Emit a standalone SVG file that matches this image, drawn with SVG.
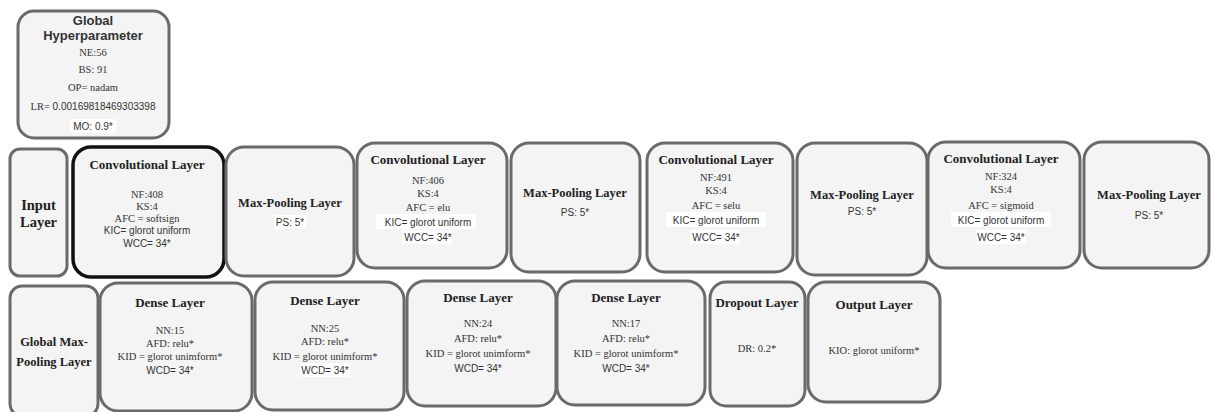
<svg xmlns="http://www.w3.org/2000/svg" width="1214" height="412" viewBox="0 0 1214 412">
<style>
.box{fill:#f4f4f4;stroke:#6a6a6a;stroke-width:3}
.dark{stroke:#111;stroke-width:3.5}
.t{font-family:"Liberation Serif",serif;font-weight:bold;font-size:13px;fill:#222;text-anchor:middle}
.tm{font-family:"Liberation Serif",serif;font-weight:bold;font-size:12.5px;fill:#222;text-anchor:middle}
.tb{font-family:"Liberation Serif",serif;font-weight:bold;font-size:14.5px;fill:#222;text-anchor:middle}
.h{font-family:"Liberation Sans",sans-serif;font-weight:bold;font-size:13px;fill:#333;text-anchor:middle}
.s{font-family:"Liberation Serif",serif;font-size:10.5px;fill:#333;text-anchor:middle}
.a{font-family:"Liberation Sans",sans-serif;font-size:10px;fill:#333;text-anchor:middle}
.hl{fill:#ffffff}
</style>
<rect width="1214" height="412" fill="#ffffff"/>
<g id="connectors"/>

<g id="global-hyperparameter">
<rect class="box" x="18" y="11" width="151" height="127" rx="16"/>
<text class="h" x="93" y="25">Global</text>
<text class="h" x="93" y="40">Hyperparameter</text>
<text class="s" x="93" y="56">NE:56</text>
<text class="s" x="93" y="73">BS: 91</text>
<text class="s" x="93" y="91">OP=  nadam</text>
<text x="93" y="110" text-anchor="middle" fill="#333"><tspan font-family="Liberation Serif, serif" font-size="10.5">LR=</tspan><tspan font-family="Liberation Sans, sans-serif" font-size="10"> 0.00169818469303398</tspan></text>
<rect class="hl" x="70" y="119" width="46" height="14"/>
<text class="a" x="93" y="130">MO: 0.9*</text>
</g>

<g id="input-layer">
<rect class="box" x="10" y="149" width="57" height="127" rx="10"/>
<text class="tb" x="38.5" y="210">Input</text>
<text class="tb" x="38.5" y="227">Layer</text>
</g>

<g id="conv1">
<rect class="box dark" x="73" y="147" width="151" height="130" rx="18"/>
<text class="t" x="147" y="169">Convolutional Layer</text>
<text class="s" x="147" y="198">NF:408</text>
<text class="s" x="147" y="210">KS:4</text>
<text class="s" x="147" y="222">AFC = softsign</text>
<text class="a" x="147" y="234">KIC= glorot uniform</text>
<text class="a" x="147" y="247">WCC= 34*</text>
</g>

<g id="maxpool1">
<rect class="box" x="226" y="147" width="128" height="129" rx="18"/>
<text class="tm" x="290" y="207">Max-Pooling Layer</text>
<rect class="hl" x="274" y="215" width="32" height="14"/>
<text class="a" x="290" y="226">PS: 5*</text>
</g>

<g id="conv2">
<rect class="box" x="357" y="143" width="150" height="125" rx="18"/>
<text class="t" x="428" y="164">Convolutional Layer</text>
<text class="s" x="428" y="184">NF:406</text>
<text class="s" x="428" y="197">KS:4</text>
<text class="s" x="428" y="211">AFC = elu</text>
<rect class="hl" x="376" y="214" width="100" height="15"/>
<text class="a" x="428" y="226">KIC= glorot uniform</text>
<rect class="hl" x="402" y="230" width="50" height="14"/>
<text class="a" x="428" y="241">WCC= 34*</text>
</g>

<g id="maxpool2">
<rect class="box" x="511" y="143" width="129" height="129" rx="18"/>
<text class="tm" x="575" y="197">Max-Pooling Layer</text>
<text class="a" x="575" y="216">PS: 5*</text>
</g>

<g id="conv3">
<rect class="box" x="647" y="143" width="146" height="129" rx="18"/>
<text class="t" x="716" y="164">Convolutional Layer</text>
<text class="s" x="716" y="181">NF:491</text>
<text class="s" x="716" y="194">KS:4</text>
<text class="s" x="716" y="209">AFC = selu</text>
<rect class="hl" x="666" y="212" width="100" height="15"/>
<text class="a" x="716" y="224">KIC= glorot uniform</text>
<rect class="hl" x="690" y="230" width="50" height="14"/>
<text class="a" x="716" y="241">WCC= 34*</text>
</g>

<g id="maxpool3">
<rect class="box" x="797" y="143" width="130" height="132" rx="18"/>
<text class="tm" x="862" y="199">Max-Pooling Layer</text>
<text class="a" x="862" y="215">PS: 5*</text>
</g>

<g id="conv4">
<rect class="box" x="928" y="142" width="152" height="126" rx="18"/>
<text class="t" x="1001" y="163">Convolutional Layer</text>
<text class="s" x="1001" y="180">NF:324</text>
<text class="s" x="1001" y="193">KS:4</text>
<text class="s" x="1001" y="209">AFC = sigmoid</text>
<rect class="hl" x="951" y="212" width="100" height="15"/>
<text class="a" x="1001" y="224">KIC= glorot uniform</text>
<rect class="hl" x="976" y="230" width="50" height="14"/>
<text class="a" x="1001" y="241">WCC= 34*</text>
</g>

<g id="maxpool4">
<rect class="box" x="1084" y="142" width="125" height="126" rx="18"/>
<text class="tm" x="1149" y="199">Max-Pooling Layer</text>
<text class="a" x="1149" y="219">PS: 5*</text>
</g>

<g id="global-maxpool">
<rect class="box" x="10" y="286" width="88" height="130" rx="12"/>
<text class="tm" x="54" y="346" font-size="13.5">Global Max-</text>
<text class="tm" x="54" y="366" font-size="13.5">Pooling Layer</text>
</g>

<g id="dense1">
<rect class="box" x="100" y="283" width="152" height="128" rx="18"/>
<text class="t" x="170" y="307">Dense Layer</text>
<text class="s" x="170" y="334">NN:15</text>
<text class="s" x="170" y="347">AFD: relu*</text>
<text class="s" x="170" y="360">KID = glorot unimform*</text>
<text class="a" x="170" y="374">WCD= 34*</text>
</g>

<g id="dense2">
<rect class="box" x="255" y="282" width="149" height="128" rx="18"/>
<text class="t" x="325" y="305">Dense Layer</text>
<text class="s" x="325" y="332">NN:25</text>
<text class="s" x="325" y="345">AFD: relu*</text>
<text class="s" x="325" y="360">KID = glorot unimform*</text>
<rect class="hl" x="300" y="363" width="50" height="14"/>
<text class="a" x="325" y="374">WCD= 34*</text>
</g>

<g id="dense3">
<rect class="box" x="407" y="281" width="149" height="125" rx="18"/>
<text class="t" x="478" y="302">Dense Layer</text>
<text class="s" x="478" y="327">NN:24</text>
<text class="s" x="478" y="342">AFD: relu*</text>
<text class="s" x="478" y="357">KID = glorot unimform*</text>
<text class="a" x="478" y="372">WCD= 34*</text>
</g>

<g id="dense4">
<rect class="box" x="557" y="281" width="148" height="124" rx="18"/>
<text class="t" x="626" y="302">Dense Layer</text>
<text class="s" x="626" y="327">NN:17</text>
<text class="s" x="626" y="342">AFD: relu*</text>
<text class="s" x="626" y="357">KID = glorot unimform*</text>
<text class="a" x="626" y="372">WCD= 34*</text>
</g>

<g id="dropout">
<rect class="box" x="710" y="282" width="95" height="124" rx="16"/>
<text class="t" x="757" y="307" font-size="12.5">Dropout Layer</text>
<text class="s" x="757" y="352">DR: 0.2*</text>
</g>

<g id="output-layer">
<rect class="box" x="808" y="282" width="132" height="120" rx="18"/>
<text class="t" x="874" y="309">Output Layer</text>
<text class="s" x="874" y="354">KIO: glorot uniform*</text>
</g>
</svg>
